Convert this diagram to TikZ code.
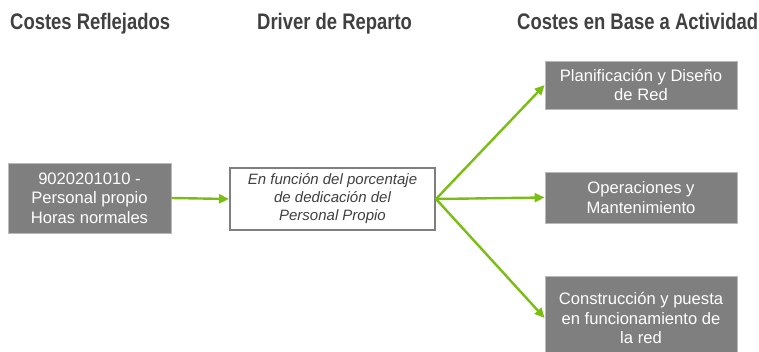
\documentclass[tikz,border=0pt]{standalone}
\usepackage{fontspec}
\setmainfont{Liberation Sans}
\newfontfamily\headfont[FakeStretch=0.82]{Liberation Sans}
\usetikzlibrary{arrows.meta}

\definecolor{boxgray}{RGB}{127,127,127}
\definecolor{rimgray}{RGB}{185,185,185}
\definecolor{flowgreen}{RGB}{122,190,20}
\definecolor{inkgray}{RGB}{64,64,64}

\tikzset{
    costbox/.style={fill=boxgray, draw=rimgray, line width=0.8pt, text=white,
        align=center, inner sep=0pt, font=\fontsize{16.6}{19.5}\selectfont},
    driverbox/.style={fill=white, draw=boxgray, line width=2pt, text=inkgray,
        align=center, inner sep=0pt, font=\fontsize{15}{18}\selectfont\itshape},
    header/.style={anchor=base west, inner sep=0pt, text=inkgray,
        font=\headfont\bfseries\fontsize{22.5}{26}\selectfont},
    flow/.style={draw=flowgreen, line width=2.4pt,
        -{Triangle[length=10pt,width=9pt]}}
}

\begin{document}
\begin{tikzpicture}[x=1pt,y=-1pt]

    \clip (0,0) rectangle (759,352);
    \useasboundingbox (0,0) rectangle (759,352);

    % Column headers
    \node[header] (hdrleft) at (10,30) {Costes Reflejados};
    \node[header] (hdrmid) at (257,30) {Driver de Reparto};
    \node[header] (hdrright) at (517,30) {Costes en Base a Actividad};

    % Source cost
    \node[costbox, minimum width=163pt, minimum height=70pt] (source) at (89.5,198)
        {9020201010 -\\Personal propio\\Horas normales};

    % Driver
    \node[driverbox, minimum width=205pt, minimum height=62pt] (driver) at (332.5,199)
        {En función del porcentaje\\de dedicación del\\Personal Propio};

    % Activities
    \node[costbox, minimum width=192pt, minimum height=48pt] (planning) at (641,85)
        {Planificación y Diseño\\de Red};
    \node[costbox, minimum width=192pt, minimum height=51pt] (operations) at (641,197.5)
        {Operaciones y\\Mantenimiento};
    \node[costbox, minimum width=192pt, minimum height=84pt] (building) at (641,318)
        {Construcción y puesta\\en funcionamiento de\\la red};

    % Arrows
    \draw[flow] (source.east) -- (driver.west);
    \draw[flow] (driver.east) -- (planning.west);
    \draw[flow] (driver.east) -- (operations.west);
    \draw[flow] (driver.east) -- (building.west);

\end{tikzpicture}
\end{document}
